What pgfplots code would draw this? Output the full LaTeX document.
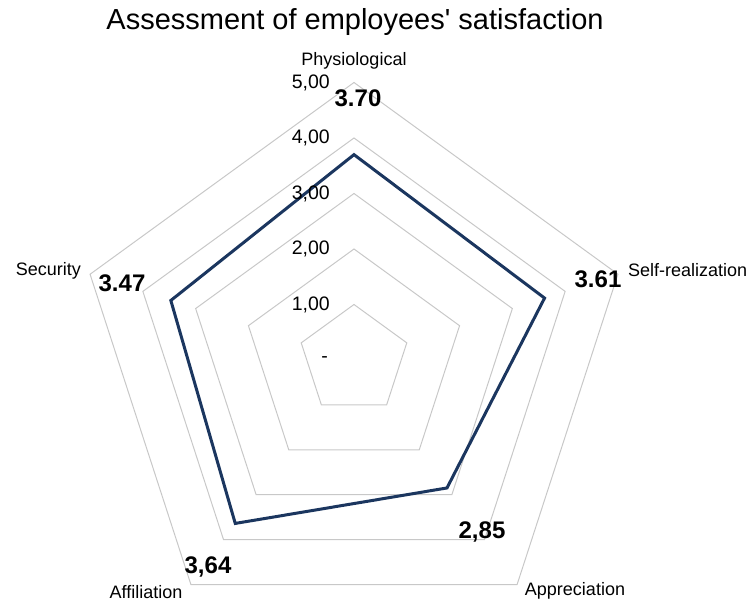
\documentclass[border=0pt]{standalone}
\usepackage{pgfplots}
\pgfplotsset{compat=1.18}
\usepackage{fontspec}
\setmainfont{Liberation Sans}
\definecolor{navy}{HTML}{1B365F}
\definecolor{gridgray}{HTML}{C8C8C8}
\begin{document}
\begin{tikzpicture}
\path[use as bounding box] (0,0) rectangle (750bp,601bp);
\begin{axis}[
  at={(354bp,241bp)}, anchor=center,
  x={(55.5bp,0)}, y={(0,55.5bp)},
  xmin=-5, xmax=5, ymin=-5, ymax=5,
  hide axis, clip=false,
]
% grid pentagons (angle, radius)
\foreach \r in {1,2,3,4,5}{
  \edef\temp{\noexpand\addplot[gridgray, line width=1bp, line join=miter, data cs=polar] coordinates {(90,\r) (18,\r) (-54,\r) (-126,\r) (162,\r) (90,\r) (18,\r)};}
  \temp
}
% data: Physiological, Self-realization, Appreciation, Affiliation, Security
\addplot[navy, line width=3bp, line join=miter, data cs=polar] coordinates {
  (90,3.70) (18,3.61) (-54,2.85) (-126,3.64) (162,3.47) (90,3.70) (18,3.61)};
\end{axis}
% title
\node[font=\fontsize{29bp}{34bp}\selectfont] at (355bp,579bp) {Assessment of employees\textquotesingle\ satisfaction};
% category names
\def\lab{\fontsize{18bp}{21bp}\selectfont}
\def\tlab{\fontsize{19.5bp}{22bp}\selectfont}
\node[font=\lab] at (354bp,540bp) {Physiological};
\node[font=\lab, anchor=west, inner sep=0pt] at (628bp,331bp) {Self-realization};
\node[font=\lab] at (575bp,10bp) {Appreciation};
\node[font=\lab] at (146bp,9bp) {Affiliation};
\node[font=\lab, anchor=east, inner sep=0pt] at (81bp,330bp) {Security};
% radial tick labels
\node[font=\tlab, anchor=east, inner sep=0pt] at (330bp,518.5bp) {5,00};
\node[font=\tlab, anchor=east, inner sep=0pt] at (330bp,463bp) {4,00};
\node[font=\tlab, anchor=east, inner sep=0pt] at (330bp,407.5bp) {3,00};
\node[font=\tlab, anchor=east, inner sep=0pt] at (330bp,352bp) {2,00};
\node[font=\tlab, anchor=east, inner sep=0pt] at (330bp,296.5bp) {1,00};
\node[font=\tlab, anchor=east, inner sep=0pt] at (328bp,241bp) {-};
% value labels
\def\vlab{\fontsize{24bp}{28bp}\selectfont\bfseries}
\node[font=\vlab] at (358bp,503bp) {3.70};
\node[font=\vlab] at (598bp,322bp) {3.61};
\node[font=\vlab] at (482bp,69bp) {2,85};
\node[font=\vlab] at (208bp,34bp) {3,64};
\node[font=\vlab] at (122bp,318bp) {3.47};
\end{tikzpicture}
\end{document}
